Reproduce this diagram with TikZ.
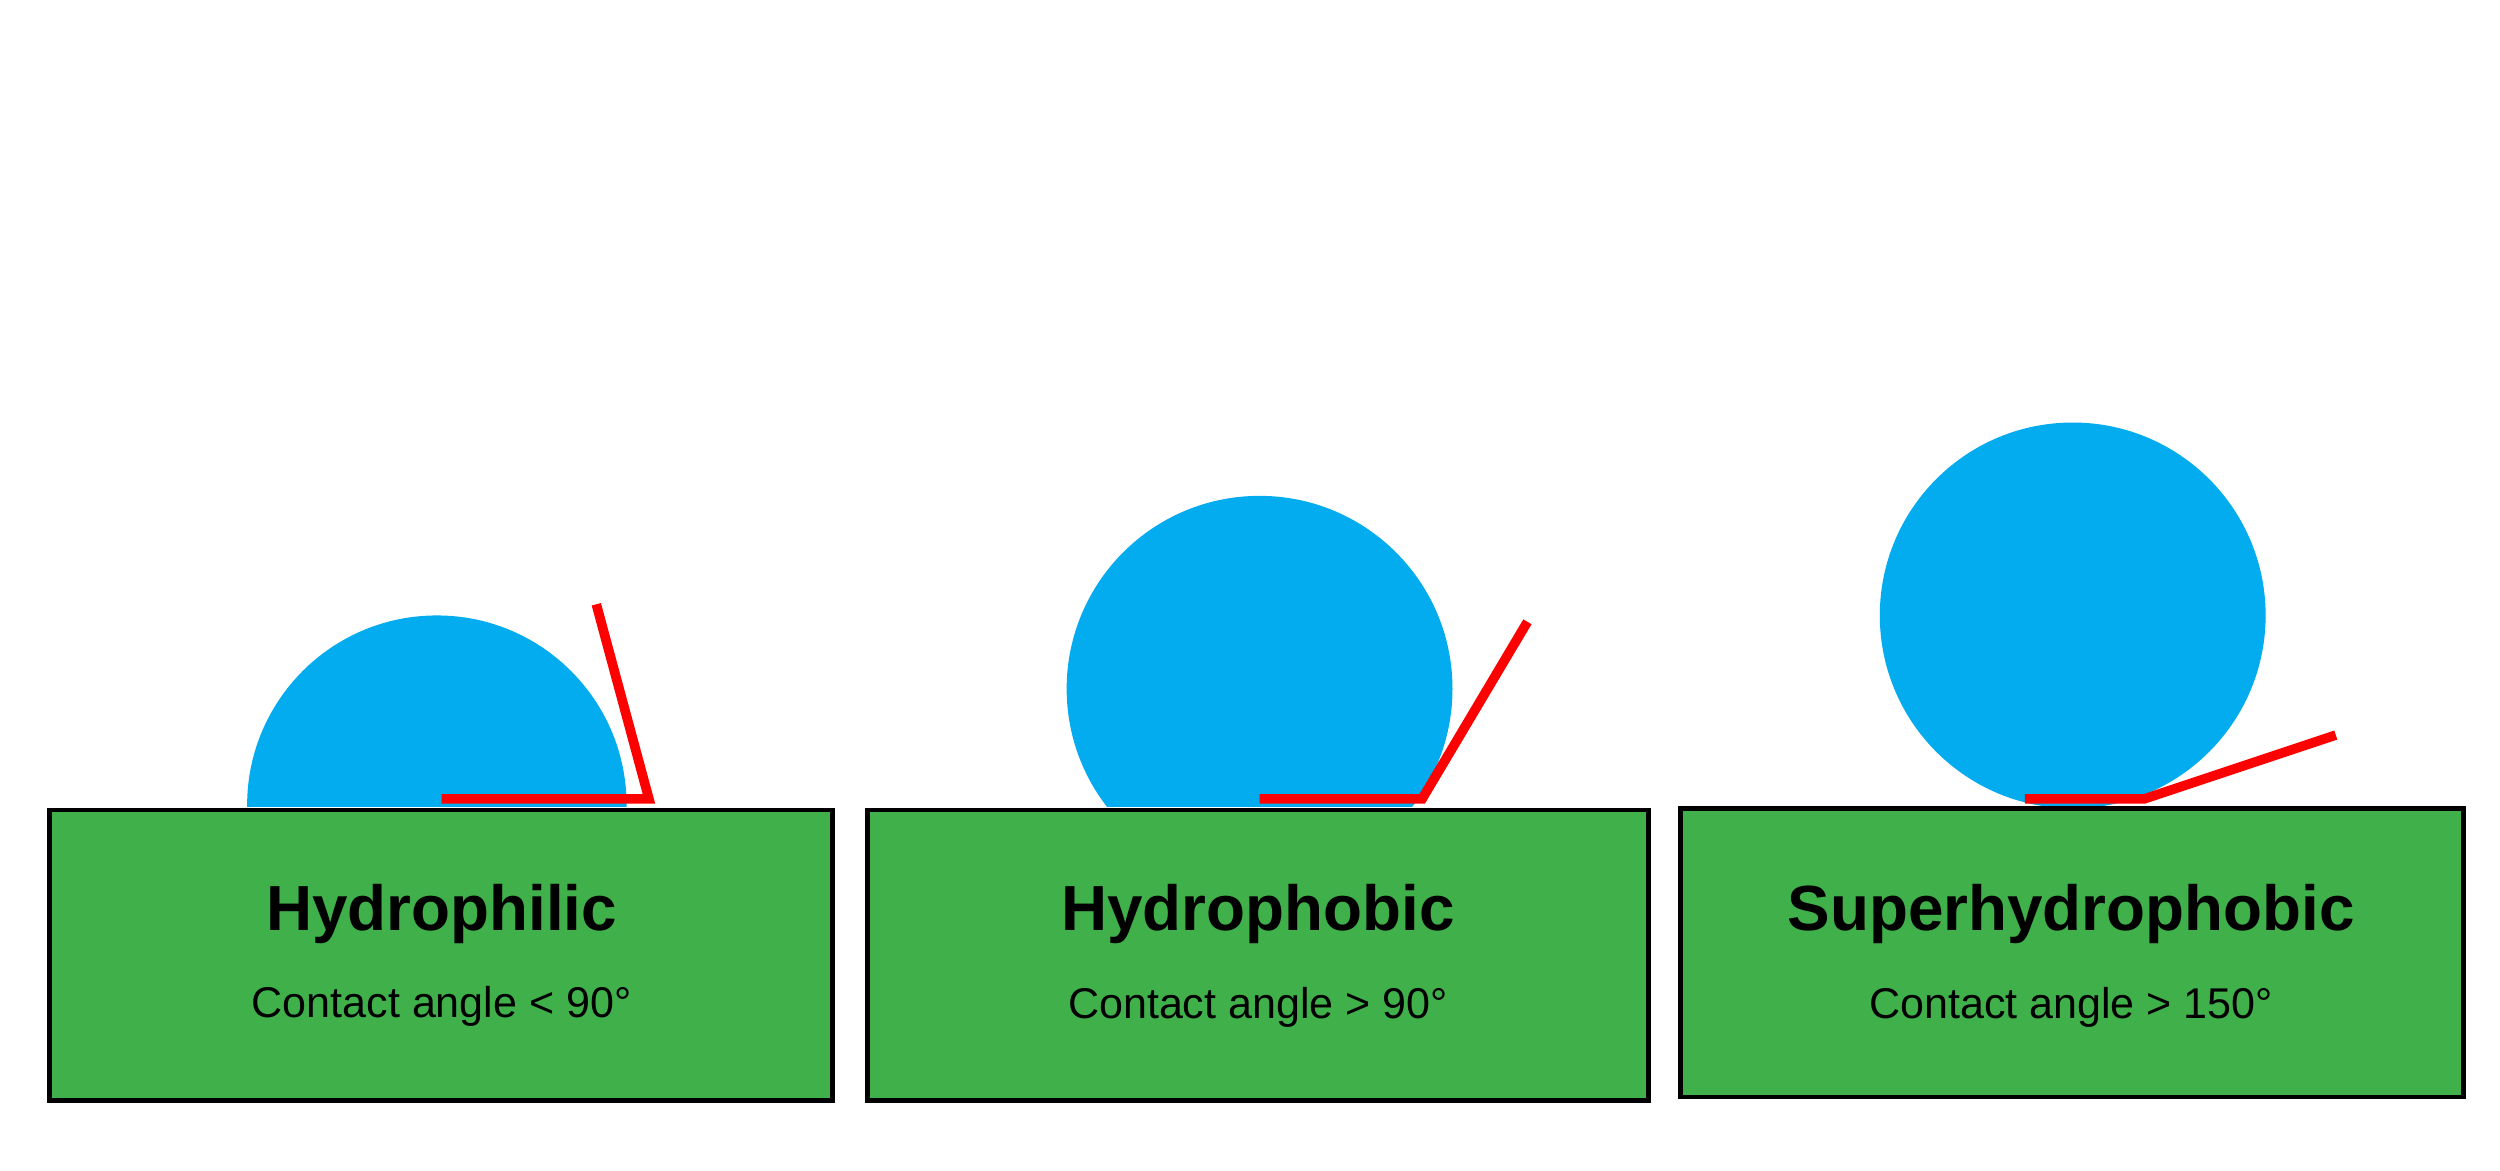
\documentclass[tikz,border=0pt]{standalone}
\usepackage{fontspec}
\setmainfont{Liberation Sans}
\definecolor{drop}{HTML}{03ACEE}
\definecolor{base}{HTML}{40B04A}
\definecolor{angle}{HTML}{FF0000}
\begin{document}
\begin{tikzpicture}[x=1pt,y=-1pt,
  basebox/.style={draw=black,line width=3pt,fill=base},
  redline/.style={draw=angle,line width=6pt,line join=miter},
  title/.style={font=\fontsize{40}{46}\selectfont\bfseries},
  sub/.style={font=\fontsize{27}{32}\selectfont}]
\useasboundingbox[fill=white] (0,0) rectangle (1568,734);
% drops
\begin{scope}
\clip (0,0) rectangle (1568,506);
\fill[drop] (274,505) circle[radius=119pt];
\fill[drop] (790,432) circle[radius=121pt];
\fill[drop] (1300,386) circle[radius=121pt];
\end{scope}
% boxes
\draw[basebox] (31,508) rectangle (522,690);
\draw[basebox] (544,508) rectangle (1034,690);
\draw[basebox] (1054,507) rectangle (1545,688);
% angle lines
\draw[redline] (277,501) -- (407,501) -- (374,379);
\draw[redline] (790,501) -- (892,501) -- (958,390);
\draw[redline] (1270,501) -- (1345,501) -- (1465,461);
% labels
\node[title] (t1) at (277,573) {Hydrophilic};
\node[sub] (s1) at (277,631) {Contact angle < 90°};
\node[title] (t2) at (789,573) {Hydrophobic};
\node[sub] (s2) at (789,632) {Contact angle > 90°};
\node[title] (t3) at (1299,573) {Superhydrophobic};
\node[sub] (s3) at (1299,632) {Contact angle > 150°};
\end{tikzpicture}
\end{document}
